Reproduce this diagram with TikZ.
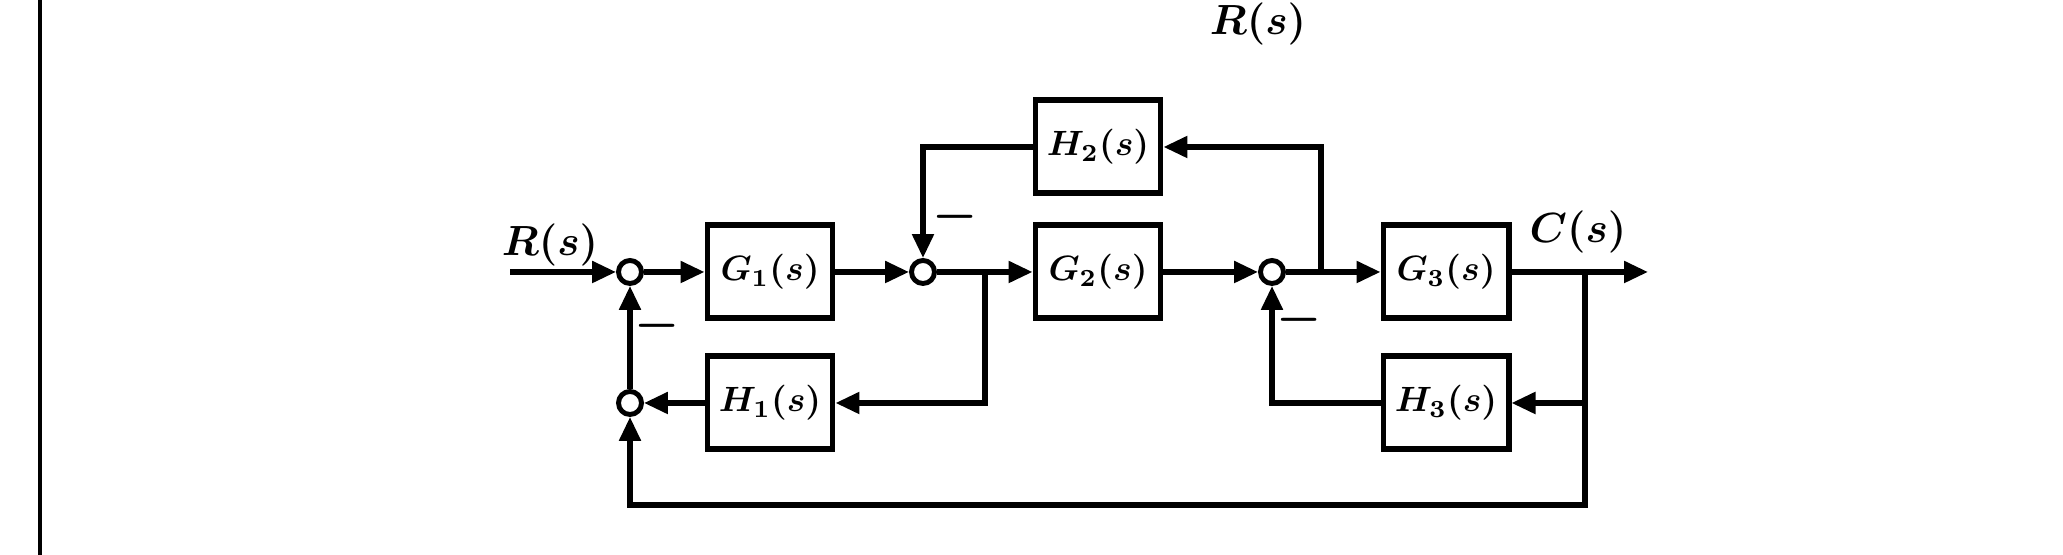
\documentclass[tikz,border=0pt]{standalone}
\usepackage{amsmath}
\usepackage{amssymb}
\usepackage{tikz}
\usetikzlibrary{arrows.meta}

\begin{document}
\begin{tikzpicture}[>={Triangle[length=2.4mm, width=2.1mm]},
       line width = 1.5pt,
       block/.style = {draw, line width = 1.7pt,
                       minimum width = 1.25cm, minimum height = 0.93cm,
                       inner sep = 0pt, font = \normalsize\boldmath},
       sum/.style = {draw, circle, line width = 1.4pt,
                     minimum size = 2.3mm, inner sep = 0pt},
       sgn/.style = {inner sep = 0pt, font = \large\boldmath}]
\useasboundingbox (0, 0) rectangle (20.63, 5.55);
\clip (0, 0) rectangle (20.63, 5.55);

% page edge and the label at the top
\draw [line width = 0.9pt] (0.40, 0) -- (0.40, 5.55);
\node[sgn, anchor = north] (Rtop) at (12.58, 5.55) {$R(s)$};

% summing points
\node[sum] (s1) at (6.30, 2.83) {};
\node[sum] (s2) at (9.23, 2.83) {};
\node[sum] (s3) at (12.72, 2.83) {};
\node[sum] (s4) at (6.30, 1.52) {};

% blocks
\node[block] (G1) at (7.70, 2.83) {$G_1(s)$};
\node[block] (G2) at (10.98, 2.83) {$G_2(s)$};
\node[block] (G3) at (14.46, 2.83) {$G_3(s)$};
\node[block] (H1) at (7.70, 1.52) {$H_1(s)$};
\node[block] (H2) at (10.98, 4.08) {$H_2(s)$};
\node[block] (H3) at (14.46, 1.52) {$H_3(s)$};

% branch points
\coordinate (in) at (5.10, 2.83);
\coordinate (b1) at (9.85, 2.83);
\coordinate (b2) at (13.21, 2.83);
\coordinate (bo) at (15.85, 2.83);
\coordinate (out) at (16.48, 2.83);
\coordinate (bl) at (6.30, 0.50);

% forward path
\draw [->] (in) -- (s1);
\draw [->] (s1) -- (G1);
\draw [->] (G1) -- (s2);
\draw [->] (s2) -- (G2);
\draw [->] (G2) -- (s3);
\draw [->] (s3) -- (G3);
\draw [->] (G3) -- (out);

% feedback paths
\draw [->] (b2) |- (H2.east);
\draw [->] (H2.west) -| (s2.north);
\draw [->] (b1) |- (H1.east);
\draw [->] (H1.west) -- (s4.east);
\draw [->] (s4) -- (s1);
\draw [->] (bo |- H3.east) -- (H3.east);
\draw [->] (H3.west) -| (s3.south);
\draw [->] (bo) |- (bl) -- (s4.south);

% labels
\node[sgn] (lR) at (5.50, 3.10) {$R(s)$};
\node[sgn] (lC) at (15.78, 3.23) {$C(s)$};
\node[sgn, font = \Large\boldmath] (m1) at (6.57, 2.29) {$-$};
\node[sgn, font = \Large\boldmath] (m2) at (9.55, 3.38) {$-$};
\node[sgn, font = \Large\boldmath] (m3) at (12.99, 2.35) {$-$};
\end{tikzpicture}
\end{document}
